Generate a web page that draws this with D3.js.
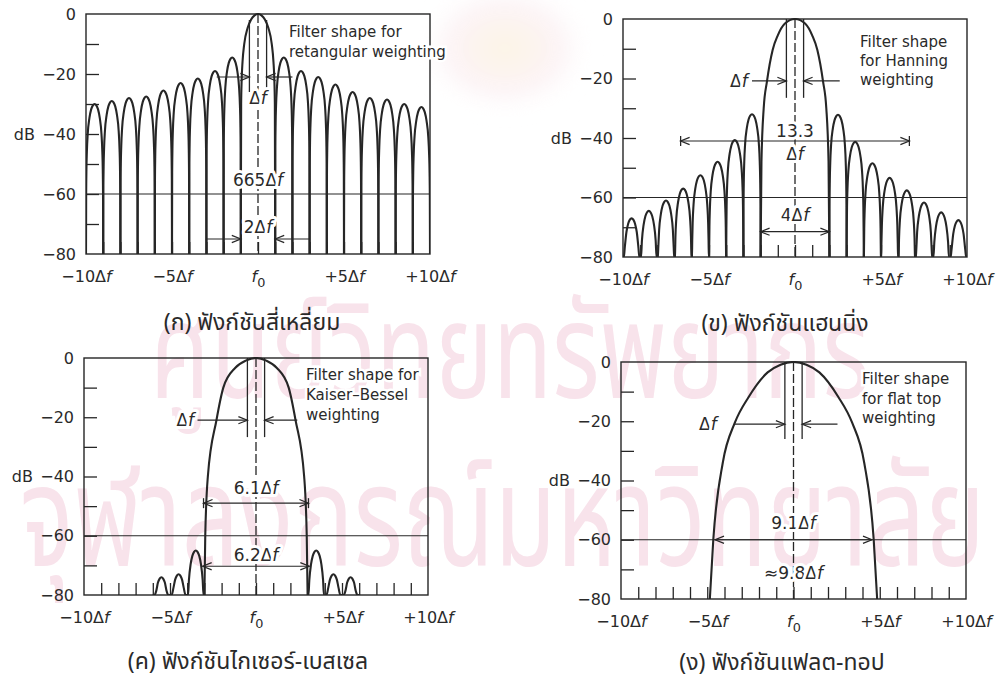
<!DOCTYPE html>
<html>
<head>
<meta charset="utf-8">
<script src="https://cdn.jsdelivr.net/npm/d3@7"></script>
<style>
  body { margin: 0; background: #ffffff; }
  svg { display: block; }
  text { font-family: "DejaVu Sans", "Noto Sans", sans-serif; fill: #2a2a2a; }
  .thai { font-family: "Noto Sans Thai", "Noto Sans", "DejaVu Sans", "Loma", "Garuda", sans-serif; }
</style>
</head>
<body>
<svg id="chart" width="1001" height="681"></svg>
<script>
// ---------------- data ----------------
const xTickValues = [-10, -5, 0, 5, 10];
const xTickLabels = ["−10Δf", "−5Δf", "f0", "+5Δf", "+10Δf"];
const yTickValues = [0, -20, -40, -60, -80];
const yTickLabels = ["0", "−20", "−40", "−60", "−80"];
const yAxisTitle = "dB";

const panelTitles = [
  "(ก) ฟังก์ชันสี่เหลี่ยม",
  "(ข) ฟังก์ชันแฮนนิ่ง",
  "(ค) ฟังก์ชันไกเซอร์-เบสเซล",
  "(ง) ฟังก์ชันแฟลต-ทอป"
];
const filterNotes = [
  ["Filter shape for", "retangular weighting"],
  ["Filter shape", "for Hanning", "weighting"],
  ["Filter shape for", "Kaiser–Bessel", "weighting"],
  ["Filter shape", "for flat top", "weighting"]
];
const watermarkLines = ["ศูนย์วิทยทรัพยากร", "จุฬาลงกรณ์มหาวิทยาลัย"];

// Rectangular window: main lobe between the ±1Δf nulls, side lobes one bin wide
const rectMainLobe = [-1, 1, 0];                       // [from, to, peak dB]
const rectSideCentres = [-9.5, -8.5, -7.5, -6.5, -5.5, -4.5, -3.5, -2.5, -1.5,
                          1.5, 2.5, 3.5, 4.5, 5.5, 6.5, 7.5, 8.5, 9.5];
const rectSidePeaks   = [-30, -29, -28, -27.5, -25.5, -23, -21.5, -19, -14.5,
                         -14.5, -19, -21, -23.5, -26, -28, -28.5, -30, -31];
const rectLabels = ["Δf", "665Δf", "2Δf"];

// Hanning window
const hannSideCentres = [-9.5, -8.5, -7.5, -6.5, -5.5, -4.5, -3.5, -2.5,
                          2.5, 3.5, 4.5, 5.5, 6.5, 7.5, 8.5, 9.5];
const hannSidePeaks   = [-67, -64.5, -61, -57, -52.5, -48, -40.7, -32,
                         -32.2, -41.3, -48.5, -53.4, -57.6, -61.7, -65, -67.6];
const hannMainOffset  = [0, 0.6, 1.0, 1.3, 1.63, 1.82, 1.95, 2.0];
const hannMainDb      = [0, -1.6, -5.5, -10.4, -21, -30, -48, -80];
const hannLabels = ["Δf", "13.3", "Δf", "4Δf"];

// Kaiser–Bessel window
const kbSideCentres = [-5.5, -4.5, -3.5, 3.5, 4.5, 5.5];
const kbSidePeaks   = [-74, -73, -65, -65, -73, -74];
const kbMainOffset  = [0, 0.6, 1.2, 1.9, 2.3, 2.8, 2.95, 3.0];
const kbMainDb      = [0, -0.9, -3.3, -10, -21, -40, -60, -80];
const kbLabels = ["Δf", "6.1Δf", "6.2Δf"];

// Flat-top window
const flatMainOffset = [0, 0.75, 1.5, 2.6, 3.4, 4.1, 4.65, 4.85];
const flatMainDb     = [0, -0.9, -3.5, -11.8, -20.5, -34, -60, -80];
const flatLabels = ["Δf", "9.1Δf", "≈9.8Δf"];

// ---------------- drawing ----------------
const svg = d3.select("#chart");
const INK = "#262626";

// background watermark
const defs = svg.append("defs");
defs.append("filter").attr("id", "soft").append("feGaussianBlur").attr("stdDeviation", 7);
const crest = defs.append("radialGradient").attr("id", "crest");
crest.append("stop").attr("offset", "0%").attr("stop-color", "#fbeccf");
crest.append("stop").attr("offset", "60%").attr("stop-color", "#f9e8ec");
crest.append("stop").attr("offset", "100%").attr("stop-color", "#ffffff").attr("stop-opacity", 0);
svg.append("ellipse").attr("cx", 505).attr("cy", 48).attr("rx", 90).attr("ry", 70)
  .attr("fill", "url(#crest)").attr("opacity", 0.5).attr("filter", "url(#soft)");

const wm = svg.append("g");
wm.append("text").attr("class", "thai").attr("x", 150).attr("y", 398)
  .attr("font-size", 135).attr("textLength", 720).attr("lengthAdjust", "spacingAndGlyphs")
  .style("fill", "#f8e3eb").text(watermarkLines[0]);
wm.append("text").attr("class", "thai").attr("x", 20).attr("y", 566)
  .attr("font-size", 142).attr("textLength", 965).attr("lengthAdjust", "spacingAndGlyphs")
  .style("fill", "#f8e3eb").text(watermarkLines[1]);

// text with an italic f after Δ, and f0 with subscript
function rich(sel, str) {
  sel.text(null);
  if (str === "f0") {
    sel.append("tspan").attr("font-style", "italic").text("f");
    sel.append("tspan").attr("font-size", "0.8em").attr("dy", "0.35em").text("0");
    return;
  }
  const parts = str.split("Δf");
  parts.forEach((p, i) => {
    if (p) sel.append("tspan").text(p);
    if (i < parts.length - 1) {
      sel.append("tspan").text("Δ");
      sel.append("tspan").attr("font-style", "italic").text("f");
    }
  });
}

// side-lobe arch profile: [fraction across lobe, dB below peak]
const archShape = [[0, null], [0.01, -30], [0.025, -22], [0.05, -16], [0.1, -10],
                   [0.2, -4.6], [0.3, -1.8], [0.4, -0.45], [0.5, 0]];
function archPoints(lo, hi, peak) {
  const half = archShape.map(([t, d]) => [lo + t * (hi - lo), d === null ? -80 : Math.max(-80, peak + d)]);
  const other = archShape.slice(0, -1).reverse().map(([t, d]) => [hi - t * (hi - lo), d === null ? -80 : Math.max(-80, peak + d)]);
  return half.concat(other);
}
function mainPoints(offsets, dbs) {
  const left = offsets.map((o, i) => [-o, dbs[i]]).reverse();
  const right = offsets.slice(1).map((o, i) => [o, dbs[i + 1]]);
  return left.concat(right);
}

function makePanel(box) {
  const x = d3.scaleLinear().domain([-10, 10]).range([box.l, box.r]);
  const y = d3.scaleLinear().domain([0, -80]).range([box.t, box.b]);
  const g = svg.append("g");
  const id = "clip" + box.l + box.t;
  defs.append("clipPath").attr("id", id).append("rect")
    .attr("x", box.l).attr("y", box.t - 1).attr("width", box.r - box.l).attr("height", box.b - box.t + 1);
  return { x, y, g, box, clip: `url(#${id})` };
}

function frame(p) {
  const { x, y, g, box } = p;
  // inner ticks every 10 dB
  g.append("g").attr("transform", `translate(${box.l},0)`)
    .call(d3.axisLeft(y).tickValues([-10, -20, -30, -40, -50, -60, -70]).tickSize(-13).tickFormat(""))
    .call(s => s.select(".domain").remove())
    .call(s => s.selectAll("line").attr("stroke", INK).attr("stroke-width", 1.3));
  // inner ticks every Δf
  g.append("g").attr("transform", `translate(0,${box.b})`)
    .call(d3.axisBottom(x).tickValues(d3.range(-9, 10)).tickSize(-12).tickFormat(""))
    .call(s => s.select(".domain").remove())
    .call(s => s.selectAll("line").attr("stroke", INK).attr("stroke-width", 1.3));
  // y labels
  g.append("g").attr("transform", `translate(${box.l},0)`)
    .call(d3.axisLeft(y).tickValues(yTickValues).tickSize(0).tickPadding(10)
      .tickFormat((d, i) => yTickLabels[i]))
    .call(s => s.select(".domain").remove())
    .call(s => s.selectAll("text").attr("font-size", 16).attr("font-family", "DejaVu Sans").style("fill", "#2a2a2a"));
  g.append("text").attr("x", box.l - 51).attr("y", y(-40)).attr("dy", "0.36em")
    .attr("text-anchor", "end").attr("font-size", 16).text(yAxisTitle);
  // x labels
  g.append("g").attr("transform", `translate(0,${box.b})`)
    .call(d3.axisBottom(x).tickValues(xTickValues).tickSize(0).tickPadding(17))
    .call(s => s.select(".domain").remove())
    .call(s => s.selectAll("text").attr("font-size", 16).attr("font-family", "DejaVu Sans").style("fill", "#2a2a2a")
      .each(function (d, i) { rich(d3.select(this), xTickLabels[i]); }));
  // -60 dB reference line
  g.append("line").attr("x1", box.l).attr("x2", box.r).attr("y1", y(-60)).attr("y2", y(-60))
    .attr("stroke", INK).attr("stroke-width", 1.1);
}

function border(p) {
  const { g, box } = p;
  g.append("rect").attr("x", box.l).attr("y", box.t).attr("width", box.r - box.l).attr("height", box.b - box.t)
    .attr("fill", "none").attr("stroke", INK).attr("stroke-width", 1.4);
}

const lineGen = (p) => d3.line().x(d => p.x(d[0])).y(d => p.y(d[1])).curve(d3.curveMonotoneX);

function lobe(p, pts, w) {
  p.g.append("path").attr("d", lineGen(p)(pts)).attr("fill", "none")
    .attr("stroke", INK).attr("stroke-width", w || 2.1).attr("stroke-linejoin", "round")
    .attr("clip-path", p.clip);
}

function vline(p, xv, db0, db1, dash) {
  p.g.append("line").attr("x1", p.x(xv)).attr("x2", p.x(xv)).attr("y1", p.y(db0)).attr("y2", p.y(db1))
    .attr("stroke", INK).attr("stroke-width", 1.3).attr("stroke-dasharray", dash || null);
}
function hseg(p, xa, xb, db) {
  p.g.append("line").attr("x1", p.x(xa)).attr("x2", p.x(xb)).attr("y1", p.y(db)).attr("y2", p.y(db))
    .attr("stroke", INK).attr("stroke-width", 1.2);
}
function arrowHead(p, xv, db, dir) {
  const tx = p.x(xv), ty = p.y(db);
  p.g.append("path").attr("d", `M${tx - dir * 9},${ty - 3.6}L${tx},${ty}L${tx - dir * 9},${ty + 3.6}`)
    .attr("fill", "none").attr("stroke", INK).attr("stroke-width", 1.2);
}
// arrows from outside pointing in at ±width/2
function inwardDim(p, width, db, outL, outR) {
  const h = width / 2;
  hseg(p, outL, -h, db); arrowHead(p, -h, db, 1);
  hseg(p, h, outR, db); arrowHead(p, h, db, -1);
}
// span from -width/2 to +width/2 with outward arrows
function outwardDim(p, width, db, bars) {
  const h = width / 2;
  hseg(p, -h, h, db); arrowHead(p, -h, db, -1); arrowHead(p, h, db, 1);
  if (bars) [-h, h].forEach(v => {
    p.g.append("line").attr("x1", p.x(v)).attr("x2", p.x(v)).attr("y1", p.y(db) - 5).attr("y2", p.y(db) + 5)
      .attr("stroke", INK).attr("stroke-width", 1.3);
  });
}
function label(p, str, xv, db, anchor, size) {
  const t = p.g.append("text").attr("x", p.x(xv)).attr("y", p.y(db)).attr("dy", "0.36em")
    .attr("text-anchor", anchor || "middle").attr("font-size", size || 17)
    .style("stroke", "#fff").style("stroke-width", 6).style("paint-order", "stroke").style("stroke-linejoin", "round");
  rich(t, str);
  return t;
}
function note(p, lines, x0, y0, step) {
  lines.forEach((s, i) => {
    p.g.append("text").attr("x", x0).attr("y", y0 + i * step).attr("dy", "0.36em")
      .attr("font-size", 15).style("stroke", "#fff").style("stroke-width", 5).style("paint-order", "stroke")
      .text(s);
  });
}
function title(str, cx, baseline) {
  svg.append("text").attr("class", "thai").attr("x", cx).attr("y", baseline)
    .attr("text-anchor", "middle").attr("font-size", 23).text(str);
}
const num = s => parseFloat(s.replace(/[^0-9.]/g, "")) || 1;

// ---------- (a) rectangular ----------
{
  const p = makePanel({ l: 86, r: 430, t: 14, b: 254 });
  frame(p);
  rectSideCentres.forEach((c, i) => lobe(p, archPoints(c - 0.5, c + 0.5, rectSidePeaks[i])));
  lobe(p, archPoints(rectMainLobe[0], rectMainLobe[1], rectMainLobe[2]));
  border(p);
  vline(p, 0, 0, -80, "9,3");
  vline(p, -num(rectLabels[0]) / 2, -2, -26); vline(p, num(rectLabels[0]) / 2, -2, -26);
  inwardDim(p, num(rectLabels[0]), -21, -2.4, 2.0);
  inwardDim(p, num(rectLabels[2]), -75, -3.0, 3.0);
  label(p, rectLabels[0], 0, -28);
  label(p, rectLabels[1], 0, -55.3);
  label(p, rectLabels[2], 0, -71);
  note(p, filterNotes[0], 289, 32, 20);
}

// ---------- (b) Hanning ----------
{
  const p = makePanel({ l: 623, r: 967, t: 19, b: 257 });
  frame(p);
  hannSideCentres.forEach((c, i) => lobe(p, archPoints(c - 0.5, c + 0.5, hannSidePeaks[i])));
  lobe(p, mainPoints(hannMainOffset, hannMainDb));
  border(p);
  vline(p, 0, 0, -80, "9,3");
  vline(p, -0.5, 0, -26.5); vline(p, 0.5, 0, -26.5);
  inwardDim(p, num(hannLabels[0]), -20.8, -2.5, 2.6);
  label(p, hannLabels[0], -2.75, -20.8, "end");
  outwardDim(p, num(hannLabels[1]), -41, true);
  outwardDim(p, num(hannLabels[3]), -71.5, false);
  label(p, hannLabels[1], 0, -37.6);
  label(p, hannLabels[2], 0, -45.4);
  label(p, hannLabels[3], 0, -65.9);
  note(p, filterNotes[1], 860, 42, 19);
}

// ---------- (c) Kaiser–Bessel ----------
{
  const p = makePanel({ l: 84, r: 428, t: 358, b: 595 });
  frame(p);
  kbSideCentres.forEach((c, i) => lobe(p, archPoints(c - 0.5, c + 0.5, kbSidePeaks[i])));
  lobe(p, mainPoints(kbMainOffset, kbMainDb));
  border(p);
  vline(p, 0, 0, -80, "9,3");
  vline(p, -0.5, 0, -26.7); vline(p, 0.5, 0, -26.7);
  inwardDim(p, num(kbLabels[0]), -21, -3.4, 2.4);
  label(p, kbLabels[0], -3.6, -21, "end");
  outwardDim(p, num(kbLabels[1]), -49, true);
  outwardDim(p, num(kbLabels[2]), -70.3, false);
  label(p, kbLabels[1], 0, -43.9);
  label(p, kbLabels[2], 0, -66.5);
  note(p, filterNotes[2], 306, 375, 20);
}

// ---------- (d) flat top ----------
{
  const p = makePanel({ l: 621, r: 966, t: 362, b: 599 });
  frame(p);
  lobe(p, mainPoints(flatMainOffset, flatMainDb));
  border(p);
  vline(p, 0, 0, -80, "9,3");
  vline(p, -0.5, 0, -26); vline(p, 0.5, 0, -26);
  inwardDim(p, num(flatLabels[0]), -21, -3.4, 2.55);
  label(p, flatLabels[0], -4.45, -21, "end");
  outwardDim(p, num(flatLabels[1]), -60, false);
  label(p, flatLabels[1], 0, -54.3);
  label(p, flatLabels[2], 0, -71.2);
  note(p, filterNotes[3], 862, 379, 19.5);
}

// captions
title(panelTitles[0], 252, 330);
title(panelTitles[1], 785, 331);
title(panelTitles[2], 248, 669);
title(panelTitles[3], 782, 670);
</script>
</body>
</html>
